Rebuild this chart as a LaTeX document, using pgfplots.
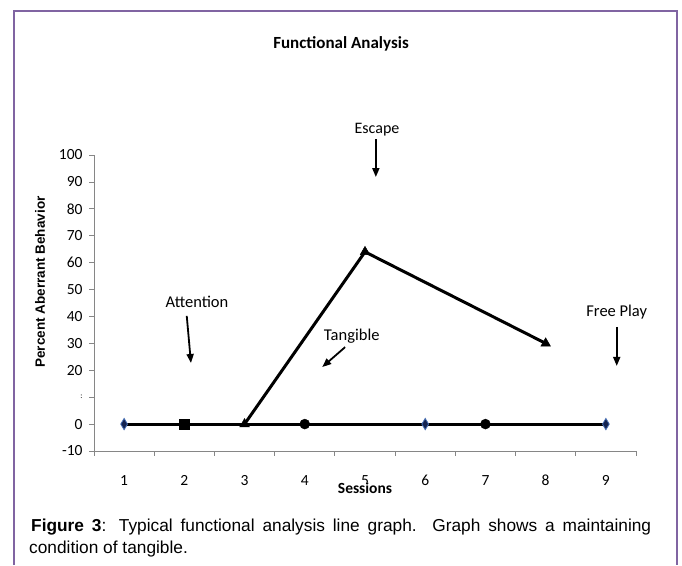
\documentclass[border=0pt]{standalone}
\usepackage{pgfplots}
\pgfplotsset{compat=1.18}
\usepackage{fontspec}
\setmainfont{Carlito}
\newfontfamily\arial{Liberation Sans}
\usetikzlibrary{arrows.meta}
\definecolor{framec}{RGB}{128,100,162}
\definecolor{axgray}{RGB}{134,134,134}
\definecolor{dnavy}{RGB}{20,35,80}
\definecolor{dblue}{RGB}{70,110,180}
\begin{document}
\begin{tikzpicture}
\fill[white] (0bp,0bp) rectangle (682bp,565bp);
\draw[framec, line width=1.5bp] (14bp,0bp) -- (14bp,554bp) -- (677bp,554bp) -- (677bp,0bp);
\node[font=\bfseries\fontsize{17bp}{20bp}\selectfont] at (341bp,521bp) {Functional Analysis};
\node[font=\arial\bfseries\fontsize{13.5bp}{16bp}\selectfont, rotate=90] at (40bp,283bp) {Percent Aberrant Behavior};
\node[anchor=base west, inner sep=0pt, font=\arial\fontsize{17.3bp}{20bp}\selectfont] at (31bp,34bp) {\makebox[620bp][s]{\textbf{Figure 3}: Typical functional analysis line graph. Graph shows a maintaining}};
\node[anchor=base west, inner sep=0pt, font=\arial\fontsize{17.3bp}{20bp}\selectfont] at (29bp,12bp) {condition of tangible.};
\begin{axis}[
  at={(94bp,114bp)}, anchor=south west,
  scale only axis, width=542bp, height=296bp,
  xmin=0.5, xmax=9.5, ymin=-10, ymax=100,
  clip=false,
  axis x line*=bottom, axis y line*=left,
  axis line style={axgray, line width=0.8bp},
  tick style={axgray, line width=0.8bp},
  tick align=outside,
  major tick length=5bp,
  xtick={0.5,1.5,...,9.5},
  xticklabels={,,,,,,,,,},
  extra x ticks={1,2,3,4,5,6,7,8,9},
  extra x tick labels={1,2,3,4,5,6,7,8,9},
  extra x tick style={major tick length=0pt},
  xticklabel shift=21bp,
  xticklabel style={anchor=north, text height=10bp, text depth=0bp},
  ytick={-10,0,10,20,30,40,50,60,70,80,90,100},
  yticklabels={-10,0,{\raisebox{1bp}{\fontsize{8bp}{8bp}\selectfont :}},20,30,40,50,60,70,80,90,100},
  yticklabel shift=3bp,
  tick label style={font=\fontsize{15.5bp}{18bp}\selectfont, black},
  /pgf/number format/assume math mode=true,
]
\addplot[black, line width=3bp, no marks] coordinates {(1,0) (9,0)};
\addplot[black, line width=3bp, mark=triangle*, mark size=5.5bp, mark options={solid, line width=0.5bp}] coordinates {(3,0) (5,64) (8,30)};
\addplot[only marks, mark=diamond*, mark size=4.5bp, mark options={fill=dnavy, draw=dblue, line width=0.8bp, yscale=1.25}] coordinates {(1,0) (6,0) (9,0)};
\addplot[only marks, mark=square*, mark size=5bp, black] coordinates {(2,0)};
\addplot[only marks, mark=*, mark size=5bp, black] coordinates {(4,0) (7,0)};
% annotations
\node[font=\fontsize{16bp}{18bp}\selectfont] at (axis cs:5.20,109.3) {Escape};
\draw[black, line width=1.8bp, -{Triangle[length=9bp,width=7bp]}] (axis cs:5.18,105.9) -- (axis cs:5.18,91.8);
\node[font=\fontsize{16.5bp}{18bp}\selectfont] at (axis cs:2.21,45.4) {Attention};
\draw[black, line width=1.8bp, -{Triangle[length=9bp,width=7bp]}] (axis cs:2.04,40.2) -- (axis cs:2.11,22.7);
\node[font=\fontsize{16.5bp}{18bp}\selectfont] at (axis cs:4.78,32.7) {Tangible};
\draw[black, line width=1.8bp, -{Triangle[length=9bp,width=7bp]}] (axis cs:4.67,28.6) -- (axis cs:4.29,21.2);
\node[font=\fontsize{16.5bp}{18bp}\selectfont] at (axis cs:9.18,41.7) {Free Play};
\draw[black, line width=1.8bp, -{Triangle[length=9bp,width=7bp]}] (axis cs:9.18,36.1) -- (axis cs:9.18,21.6);
\end{axis}
\node[font=\bfseries\fontsize{15.5bp}{17bp}\selectfont, fill=white, inner sep=1bp] at (365bp,77bp) {Sessions};
\end{tikzpicture}
\end{document}
